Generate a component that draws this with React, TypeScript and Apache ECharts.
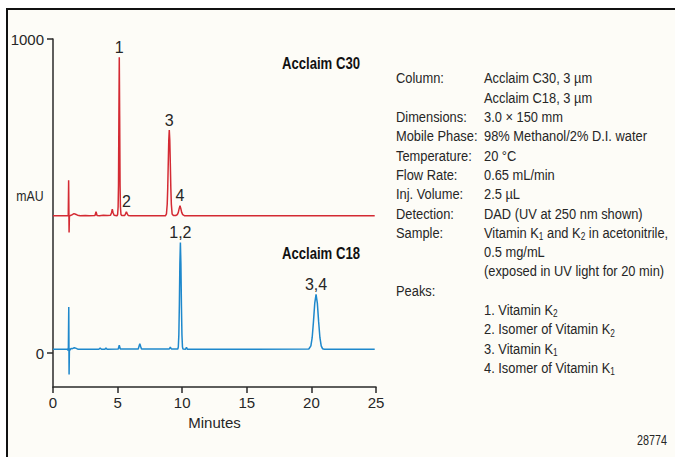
import { useEffect, useRef } from "react";
import * as echarts from "echarts";

const FONT = "'Liberation Sans', Arial, sans-serif";
const TEXT = "#262626";
const AXIS = "#2a2a2a";
const RED = "#d42a33";
const BLUE = "#1e88cc";
const NARROW = 0.83;

// axes
const xMin = 0;
const xMax = 25;
const xInterval = 5;
const yMin = -108;
const yMax = 1000;
const yTickValues = [0, 1000];

// Acclaim C30 trace (mAU, drawn with a vertical offset)
const C30_OFFSET = 425;
const c30Time = [0, 1.18, 1.21, 1.245, 1.27, 1.35, 1.5, 1.62, 1.75, 1.9, 2.1, 2.5, 2.8, 3.25, 3.33, 3.41, 3.6, 3.9, 4.2, 4.45, 4.53, 4.59, 4.65, 4.73, 4.95, 5.0, 5.04, 5.07, 5.1, 5.13, 5.16, 5.19, 5.22, 5.26, 5.32, 5.55, 5.62, 5.68, 5.74, 5.82, 6.0, 8.7, 8.78, 8.84, 8.88, 8.92, 8.96, 9.0, 9.04, 9.08, 9.12, 9.16, 9.22, 9.32, 9.5, 9.62, 9.7, 9.76, 9.83, 9.9, 9.96, 10.04, 10.2, 24.9];
const c30Value = [12, 12, 125, -41, 12, 13, 16, 19, 17, 14, 12, 13, 12, 13, 25, 13, 12, 14, 13, 14, 22, 33, 22, 14, 12, 16, 40, 110, 330, 517, 330, 110, 40, 16, 13, 13, 19, 25, 19, 13, 12, 12, 18, 49, 100, 178, 252, 285, 252, 178, 100, 49, 18, 13, 13, 16, 23, 34, 44, 34, 23, 16, 12, 12];

// Acclaim C18 trace (mAU)
const c18Time = [0, 1.12, 1.16, 1.19, 1.22, 1.245, 1.27, 1.32, 1.4, 1.5, 1.65, 1.8, 1.95, 3.55, 3.65, 3.75, 4.02, 4.1, 4.18, 5.05, 5.13, 5.21, 6.6, 6.66, 6.72, 6.78, 6.85, 9.0, 9.08, 9.16, 9.66, 9.7, 9.74, 9.78, 9.82, 9.86, 9.9, 9.94, 9.98, 10.02, 10.06, 10.25, 10.33, 10.41, 19.8, 19.96, 20.06, 20.16, 20.26, 20.36, 20.46, 20.56, 20.66, 20.76, 20.86, 21.0, 24.9];
const c18Value = [12, 12, 8, 18, 147, -68, 14, 9, 15, 14, 17, 15, 12, 12, 16, 12, 12, 16, 12, 13, 25, 13, 13, 22, 30, 22, 13, 13, 19, 13, 13, 20, 58, 152, 284, 352, 284, 152, 58, 20, 13, 12, 18, 12, 13, 23, 49, 100, 159, 187, 159, 100, 49, 23, 14, 12, 12];

// peak labels
const c30PeakLabels = ["1", "2", "3", "4"];
const c30PeakTimes = [5.13, 5.68, 9.0, 9.83];
const c18PeakLabels = ["1,2", "3,4"];
const c18PeakTimes = [9.86, 20.36];

// conditions text
const condLabels = ["Column:", "", "Dimensions:", "Mobile Phase:", "Temperature:", "Flow Rate:", "Inj. Volume:", "Detection:", "Sample:", "", "", "Peaks:", "", "", "", ""];
const condValues = [
  "Acclaim C30, 3 µm",
  "Acclaim C18, 3 µm",
  "3.0 × 150 mm",
  "98% Methanol/2% D.I. water",
  "20 °C",
  "0.65 mL/min",
  "2.5 µL",
  "DAD (UV at 250 nm shown)",
  "Vitamin K{s|1} and K{s|2} in acetonitrile,",
  "0.5 mg/mL",
  "(exposed in UV light for 20 min)",
  "",
  "1. Vitamin K{s|2}",
  "2. Isomer of Vitamin K{s|2}",
  "3. Vitamin K{s|1}",
  "4. Isomer of Vitamin K{s|1}",
];

function peakPoints(labels: string[], times: number[], t: number[], v: number[], offset: number) {
  return labels.map((name, i) => {
    const idx = t.indexOf(times[i]);
    return { name, coord: [times[i], v[idx] + offset], value: name };
  });
}

export default function App() {
  const ref = useRef<HTMLDivElement>(null);
  useEffect(() => {
    if (!ref.current) return;
    const chart = echarts.init(ref.current, null, { renderer: "svg" });
    const c30Data = c30Time.map((t, i) => [t, c30Value[i] + C30_OFFSET]);
    const c18Data = c18Time.map((t, i) => [t, c18Value[i]]);

    const lineTop = 78;
    const lineStep = 19.3;
    const richSub = { s: { fontSize: 10, fontFamily: FONT, fill: TEXT, verticalAlign: "bottom", lineHeight: 10 } };
    const condGraphics: any[] = [];
    condLabels.forEach((lab, i) => {
      if (lab) {
        condGraphics.push({
          type: "text", x: 396, y: lineTop + i * lineStep, scaleX: NARROW,
          style: { text: lab, fill: TEXT, fontSize: 15.5, fontFamily: FONT, textVerticalAlign: "middle", verticalAlign: "middle", lineHeight: 19 },
        });
      }
      const val = condValues[i];
      if (val) {
        condGraphics.push({
          type: "text", x: 484, y: lineTop + i * lineStep, scaleX: NARROW,
          style: { text: val, fill: TEXT, fontSize: 15.5, fontFamily: FONT, textVerticalAlign: "middle", verticalAlign: "middle", lineHeight: 19, rich: richSub },
        });
      }
    });

    const markLabel = { show: true, position: "top", distance: 2, color: TEXT, fontSize: 16, fontFamily: FONT, formatter: "{b}" };

    chart.setOption({
      animation: false,
      backgroundColor: "transparent",
      grid: { left: 53, top: 39, width: 323, height: 348, containLabel: false },
      xAxis: {
        type: "value", min: xMin, max: xMax, interval: xInterval,
        name: "Minutes", nameLocation: "middle", nameGap: 20,
        nameTextStyle: { color: TEXT, fontSize: 15, fontFamily: FONT },
        axisLine: { show: true, onZero: false, lineStyle: { color: AXIS, width: 1.5 } },
        axisTick: { show: true, length: 6, lineStyle: { color: AXIS, width: 1.5 } },
        axisLabel: { color: TEXT, fontSize: 15, fontFamily: FONT, margin: 8 },
        splitLine: { show: false },
      },
      yAxis: {
        type: "value", min: yMin, max: yMax,
        axisLine: { show: true, onZero: false, lineStyle: { color: AXIS, width: 1.5 } },
        axisTick: { show: true, length: 6, customValues: yTickValues, lineStyle: { color: AXIS, width: 1.5 } },
        axisLabel: { color: TEXT, fontSize: 15, fontFamily: FONT, margin: 9, customValues: yTickValues, formatter: (v: number) => String(v) },
        splitLine: { show: false },
      },
      series: [
        {
          type: "line", data: c30Data, showSymbol: false, symbol: "none",
          lineStyle: { color: RED, width: 1.5 }, itemStyle: { color: RED },
          markPoint: { symbol: "circle", symbolSize: 0, label: markLabel, data: peakPoints(c30PeakLabels, c30PeakTimes, c30Time, c30Value, C30_OFFSET) },
        },
        {
          type: "line", data: c18Data, showSymbol: false, symbol: "none",
          lineStyle: { color: BLUE, width: 1.5 }, itemStyle: { color: BLUE },
          markPoint: { symbol: "circle", symbolSize: 0, label: markLabel, data: peakPoints(c18PeakLabels, c18PeakTimes, c18Time, c18Value, 0) },
        },
      ],
      graphic: [
        { type: "text", x: 30, y: 196, scaleX: 0.82, style: { text: "mAU", fill: TEXT, fontSize: 15, fontFamily: FONT, textAlign: "center", align: "center", textVerticalAlign: "middle", verticalAlign: "middle" } },
        { type: "text", x: 360, y: 64, scaleX: 0.82, style: { text: "Acclaim C30", fill: "#111", fontSize: 16, fontWeight: "bold", fontFamily: FONT, textAlign: "right", align: "right", textVerticalAlign: "middle", verticalAlign: "middle" } },
        { type: "text", x: 360, y: 254, scaleX: 0.82, style: { text: "Acclaim C18", fill: "#111", fontSize: 16, fontWeight: "bold", fontFamily: FONT, textAlign: "right", align: "right", textVerticalAlign: "middle", verticalAlign: "middle" } },
        { type: "text", x: 667, y: 440, scaleX: 0.72, style: { text: "28774", fill: TEXT, fontSize: 15, fontFamily: FONT, textAlign: "right", align: "right", textVerticalAlign: "middle", verticalAlign: "middle" } },
        ...condGraphics,
      ],
    });
    return () => chart.dispose();
  }, []);

  return (
    <div style={{ position: "fixed", left: 0, top: 0, width: 675, height: 457, background: "#ffffff", overflow: "hidden" }}>
      <div style={{ position: "absolute", left: 6, top: 8, width: 700, height: 500, borderLeft: "2px solid #111", borderTop: "2px solid #111", background: "#fdfcf7" }} />
      <div ref={ref} style={{ position: "absolute", left: 0, top: 0, width: 675, height: 457 }} />
    </div>
  );
}
